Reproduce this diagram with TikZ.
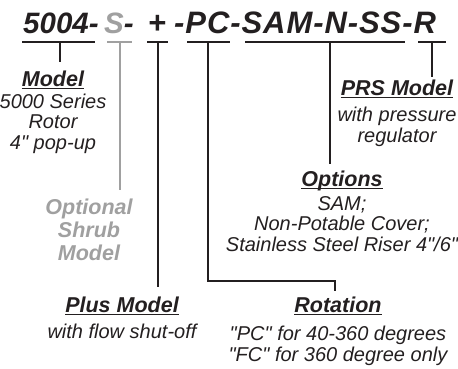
\documentclass[tikz,border=0pt]{standalone}
\usepackage{fontspec}
\setmainfont[Ligatures=TeXOff]{Liberation Sans}
\definecolor{ink}{HTML}{231F20}
\definecolor{gry}{HTML}{A0A0A0}
\tikzset{
  ttl/.style={font=\fontsize{31}{31}\selectfont\bfseries\itshape, text=ink, inner sep=0pt, anchor=base west},
  head/.style={font=\fontsize{21.5}{21.5}\selectfont\bfseries\itshape, text=ink, inner sep=0pt, anchor=base},
  body/.style={font=\fontsize{20}{20.5}\selectfont\itshape, text=ink, inner sep=0pt, anchor=base, align=center},
  conn/.style={draw=ink, line width=1.8pt},
  gconn/.style={draw=gry, line width=1.8pt},
  ul/.style={draw=ink, line width=1.2pt},
}
\begin{document}
\begin{tikzpicture}[x=1pt,y=1pt]
\useasboundingbox (0,0) rectangle (458,368);
% title pieces
\node[ttl, font=\fontsize{29.5}{29.5}\selectfont\bfseries\itshape] (t1) at (23,335) {5004-};
\node[ttl, font=\fontsize{29.5}{29.5}\selectfont\bfseries\itshape] (t2) at (104,335) {\textcolor{gry}{S}-};
\node[ttl, anchor=base] (t3) at (157,335) {+};
\node[ttl, font=\fontsize{31}{31}\selectfont\bfseries\itshape\addfontfeature{LetterSpace=3}] (t4) at (174,335) {-PC-SAM-N-SS-R};
% underline bars
\coordinate (u1a) at (22,326); \coordinate (u1b) at (95,326);
\coordinate (u2a) at (107,326); \coordinate (u2b) at (132,326);
\coordinate (u3a) at (147,326); \coordinate (u3b) at (168,326);
\coordinate (u4a) at (187,326); \coordinate (u4b) at (230,326);
\coordinate (u5a) at (245,326); \coordinate (u5b) at (405,326);
\coordinate (u6a) at (418,326); \coordinate (u6b) at (446,326);
\draw[conn] (u1a) -- (u1b);
\draw[gconn] (u2a) -- (u2b);
\draw[conn] (u3a) -- (u3b);
\draw[conn] (u4a) -- (u4b);
\draw[conn] (u5a) -- (u5b);
\draw[conn] (u6a) -- (u6b);
% labels (multi-line nodes: base = last line)
\node[head] (h1) at (53,282) {Model};
\node[body] (b1) at (53,219) {5000 Series\\Rotor\\4" pop-up};
\node[head, text=gry, align=center, font=\fontsize{21.5}{23}\selectfont\bfseries\itshape] (h2) at (89,108) {Optional\\Shrub\\Model};
\node[head] (h3) at (122,56) {Plus Model};
\node[body] (b3) at (122,30) {with flow shut-off};
\node[head] (h4) at (338,56) {Rotation};
\node[body] (b4) at (338,7) {"PC" for 40-360 degrees\\"FC" for 360 degree only};
\node[head] (h5) at (342,182) {Options};
\node[body] (b5) at (342,117) {SAM;\\Non-Potable Cover;\\Stainless Steel Riser 4"/6"};
\node[head] (h6) at (397,273) {PRS Model};
\node[body] (b6) at (397,226) {with pressure\\regulator};
% heading underlines
\foreach \h in {h1,h3,h4,h5,h6}{
  \draw[ul] ([yshift=-2.5pt]\h.base west) -- ([yshift=-2.5pt]\h.base east);
}
% stems
\coordinate (s1) at (60,306);
\coordinate (s2) at (120,178);
\coordinate (s3) at (158,81);
\coordinate (s4a) at (208,87);
\coordinate (s4b) at (335,87);
\coordinate (s4c) at (335,77);
\coordinate (s5) at (330,204);
\coordinate (s6) at (432,291);
\draw[conn] (60,326) -- (s1);
\draw[gconn] (120,326) -- (s2);
\draw[conn] (158,326) -- (s3);
\draw[conn] (208,326) -- (s4a) -- (s4b) -- (s4c);
\draw[conn] (330,326) -- (s5);
\draw[conn] (432,326) -- (s6);
\end{tikzpicture}
\end{document}
